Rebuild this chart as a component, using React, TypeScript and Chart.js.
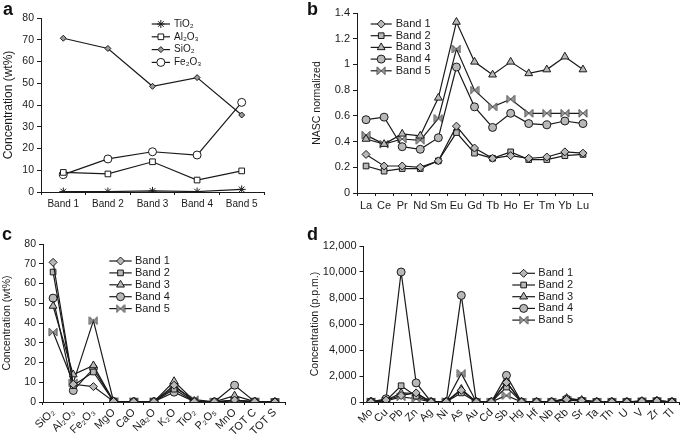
import React, { useEffect, useRef } from 'react';
import { Chart, registerables } from 'chart.js';
import { drawPoint } from 'chart.js/helpers';

Chart.register(...registerables);

const FONT = '"Liberation Sans", Arial, Helvetica, sans-serif';
const INK = '#1a1a1a';
const GREY = '#b8b8b8';

// ---------- Panel a ----------
const bandLabels = ['Band 1', 'Band 2', 'Band 3', 'Band 4', 'Band 5'];
const aTiO2 = [0.2, 0.2, 0.5, 0.2, 1.2];
const aAl2O3 = [9.0, 8.3, 13.9, 5.5, 9.7];
const aSiO2 = [70.7, 66.0, 48.6, 52.6, 35.4];
const aFe2O3 = [8.0, 15.2, 18.5, 17.0, 41.2];

// ---------- Panel b ----------
const reeLabels = ['La', 'Ce', 'Pr', 'Nd', 'Sm', 'Eu', 'Gd', 'Tb', 'Ho', 'Er', 'Tm', 'Yb', 'Lu'];
const bBand1 = [0.30, 0.21, 0.21, 0.20, 0.25, 0.52, 0.35, 0.27, 0.29, 0.27, 0.28, 0.32, 0.31];
const bBand2 = [0.21, 0.17, 0.19, 0.19, 0.25, 0.47, 0.31, 0.27, 0.32, 0.26, 0.26, 0.29, 0.30];
const bBand3 = [0.42, 0.38, 0.46, 0.445, 0.74, 1.33, 1.02, 0.92, 1.02, 0.93, 0.96, 1.06, 0.96];
const bBand4 = [0.57, 0.59, 0.36, 0.34, 0.43, 0.98, 0.67, 0.51, 0.62, 0.54, 0.53, 0.56, 0.54];
const bBand5 = [0.45, 0.38, 0.42, 0.41, 0.58, 1.12, 0.80, 0.67, 0.73, 0.62, 0.62, 0.62, 0.62];

// ---------- Panel c ----------
const oxideLabels = ['SiO₂', 'Al₂O₃', 'Fe₂O₃', 'MgO', 'CaO', 'Na₂O', 'K₂O', 'TiO₂', 'P₂O₅', 'MnO', 'TOT C', 'TOT S'];
const cBand1 = [70.7, 9.0, 7.8, 0.3, 0.2, 0.2, 8.5, 0.2, 0.1, 1.0, 0.2, 0.0];
const cBand2 = [65.8, 8.3, 15.2, 0.3, 0.2, 0.2, 6.5, 0.2, 0.1, 0.8, 0.2, 0.0];
const cBand3 = [48.6, 13.9, 18.5, 0.3, 0.2, 0.2, 10.5, 0.5, 0.1, 3.2, 0.2, 0.0];
const cBand4 = [52.6, 5.8, 17.0, 0.3, 0.2, 0.2, 5.0, 0.2, 0.1, 8.5, 0.2, 0.0];
const cBand5 = [35.4, 9.7, 41.2, 0.3, 0.2, 0.2, 7.5, 1.2, 0.1, 0.5, 0.2, 0.0];

// ---------- Panel d ----------
const traceLabels = ['Mo', 'Cu', 'Pb', 'Zn', 'Ag', 'Ni', 'As', 'Au', 'Cd', 'Sb', 'Hg', 'Hf', 'Nb', 'Rb', 'Sr', 'Ta', 'Th', 'U', 'V', 'Zr', 'Tl'];
const dBand1 = [20, 150, 500, 700, 5, 20, 900, 5, 10, 1500, 5, 5, 10, 200, 100, 5, 10, 5, 60, 80, 5];
const dBand2 = [15, 100, 1250, 450, 5, 20, 700, 5, 10, 1150, 5, 5, 10, 250, 120, 5, 10, 5, 50, 70, 5];
const dBand3 = [20, 120, 700, 650, 5, 20, 1000, 5, 10, 1550, 5, 5, 10, 300, 150, 5, 10, 5, 60, 90, 5];
const dBand4 = [20, 250, 10000, 1470, 5, 20, 8200, 5, 10, 2050, 5, 5, 10, 180, 80, 5, 10, 5, 50, 70, 5];
const dBand5 = [15, 80, 400, 250, 5, 20, 2200, 5, 10, 500, 5, 5, 10, 150, 60, 5, 10, 5, 40, 60, 5];

let bowtieCache: HTMLCanvasElement | null = null;
function bowtie(): HTMLCanvasElement {
  if (bowtieCache) return bowtieCache;
  const c = document.createElement('canvas');
  c.width = 10;
  c.height = 10;
  const g = c.getContext('2d')!;
  g.beginPath();
  g.moveTo(1, 1);
  g.lineTo(9, 9);
  g.lineTo(9, 1);
  g.lineTo(1, 9);
  g.closePath();
  g.fillStyle = '#9a9a9a';
  g.fill();
  g.strokeStyle = '#555';
  g.lineWidth = 1;
  g.stroke();
  bowtieCache = c;
  return c;
}

const lineLegend = {
  id: 'lineLegend',
  afterDatasetsDraw(chart: any, _args: any, opts: any) {
    const ctx = chart.ctx;
    chart.data.datasets.forEach((d: any, i: number) => {
      const cy = opts.y + i * opts.spacing;
      ctx.save();
      ctx.strokeStyle = d.borderColor;
      ctx.lineWidth = d.borderWidth;
      ctx.beginPath();
      ctx.moveTo(opts.x1, cy);
      ctx.lineTo(opts.x2, cy);
      ctx.stroke();
      ctx.fillStyle = d.pointBackgroundColor;
      ctx.strokeStyle = d.pointBorderColor;
      ctx.lineWidth = d.pointBorderWidth;
      drawPoint(ctx, { pointStyle: d.pointStyle, radius: d.pointRadius, borderWidth: d.pointBorderWidth, rotation: 0 } as any, (opts.x1 + opts.x2) / 2, cy);
      ctx.fillStyle = INK;
      ctx.font = `${opts.size}px ${FONT}`;
      ctx.textBaseline = 'middle';
      ctx.textAlign = 'left';
      ctx.fillText(d.label, opts.tx, cy);
      ctx.restore();
    });
  },
};

function ds(label: string, data: number[], pointStyle: any, bg: string, radius = 4, border = INK) {
  return {
    label,
    data,
    borderColor: INK,
    borderWidth: 1.2,
    pointStyle,
    pointRadius: radius,
    pointBackgroundColor: bg,
    pointBorderColor: border,
    pointBorderWidth: 1,
    fill: false,
    tension: 0,
  };
}

function makeConfig(p: any) {
  return {
    type: 'line',
    data: { labels: p.labels, datasets: p.datasets },
    plugins: [lineLegend],
    options: {
      responsive: false,
      animation: false,
      layout: { padding: p.padding },
      plugins: {
        legend: { display: false },
        tooltip: { enabled: false },
        lineLegend: p.legend,
      },
      scales: {
        x: {
          type: 'category',
          offset: true,
          grid: { display: true, drawOnChartArea: false, drawTicks: true, tickLength: 3, color: INK, offset: true },
          border: { display: true, color: INK, width: 1 },
          ticks: {
            color: INK,
            font: { family: FONT, size: p.xFont },
            padding: p.xPad,
            autoSkip: false,
            maxRotation: p.rot,
            minRotation: p.rot,
          },
          afterFit: (s: any) => { s.height = p.xHeight; },
        },
        y: {
          min: p.yMin,
          max: p.yMax,
          grid: { display: true, drawOnChartArea: false, drawTicks: true, tickLength: 4, color: INK },
          border: { display: true, color: INK, width: 1 },
          ticks: {
            stepSize: p.yStep,
            color: INK,
            font: { family: FONT, size: p.yFont },
            padding: 3,
            callback: p.yFmt,
          },
          title: {
            display: true,
            text: p.yTitle,
            color: INK,
            font: { family: FONT, size: p.titleSize },
            padding: { top: p.titlePad, bottom: 0 },
          },
          afterFit: (s: any) => { s.width = p.yWidth; },
        },
      },
    },
  };
}

function Panel({ left, top, width, height, build }: any) {
  const ref = useRef<HTMLCanvasElement>(null);
  useEffect(() => {
    const chart = new Chart(ref.current as HTMLCanvasElement, build() as any);
    return () => chart.destroy();
  }, []);
  return (
    <canvas
      ref={ref}
      width={width}
      height={height}
      style={{ position: 'absolute', left, top, width, height }}
    />
  );
}

const letterStyle = (left: number, top: number): React.CSSProperties => ({
  position: 'absolute',
  left,
  top,
  fontFamily: FONT,
  fontWeight: 'bold',
  fontSize: 18,
  lineHeight: '18px',
  color: '#111',
});

export default function App() {
  const buildA = () =>
    makeConfig({
      labels: bandLabels,
      datasets: [
        ds('TiO₂', aTiO2, 'star', INK, 4),
        ds('Al₂O₃', aAl2O3, 'rect', '#fff', 4),
        ds('SiO₂', aSiO2, 'rectRot', '#999', 3),
        ds('Fe₂O₃', aFe2O3, 'circle', '#fff', 4),
      ],
      padding: { top: 18, right: 41, bottom: 0, left: 0 },
      legend: { x1: 151.7, x2: 170, tx: 174, y: 24, spacing: 12.8, size: 10 },
      yMin: 0, yMax: 80, yStep: 10,
      yFmt: (v: any) => String(v),
      yTitle: 'Concentration (wt%)', titleSize: 12, titlePad: 1,
      yWidth: 41, xHeight: 23, xFont: 10, yFont: 10.5, xPad: 3, rot: 0,
    });

  const bandSets = (b1: number[], b2: number[], b3: number[], b4: number[], b5: number[]) => [
    ds('Band 1', b1, 'rectRot', GREY, 4),
    ds('Band 2', b2, 'rect', GREY, 4),
    ds('Band 3', b3, 'triangle', GREY, 4.5),
    ds('Band 4', b4, 'circle', GREY, 4),
    ds('Band 5', b5, bowtie(), GREY, 4),
  ];

  const buildB = () =>
    makeConfig({
      labels: reeLabels,
      datasets: bandSets(bBand1, bBand2, bBand3, bBand4, bBand5),
      padding: { top: 13, right: 93, bottom: 0, left: 0 },
      legend: { x1: 65.7, x2: 86.7, tx: 90.7, y: 24, spacing: 11.7, size: 11 },
      yMin: 0, yMax: 1.4, yStep: 0.2,
      yFmt: (v: any) => String(Math.round(v * 10) / 10),
      yTitle: 'NASC normalized', titleSize: 10.5, titlePad: 6,
      yWidth: 52, xHeight: 22, xFont: 11, yFont: 11, xPad: 3, rot: 0,
    });

  const buildC = () =>
    makeConfig({
      labels: oxideLabels,
      datasets: bandSets(cBand1, cBand2, cBand3, cBand4, cBand5),
      padding: { top: 29, right: 20, bottom: 0, left: 0 },
      legend: { x1: 109.3, x2: 131.7, tx: 135, y: 46, spacing: 11.9, size: 11 },
      yMin: 0, yMax: 80, yStep: 10,
      yFmt: (v: any) => String(v),
      yTitle: 'Concentration (wt%)', titleSize: 10.5, titlePad: 1,
      yWidth: 43, xHeight: 38, xFont: 11, yFont: 10.5, xPad: 1, rot: 45,
    });

  const buildD = () =>
    makeConfig({
      labels: traceLabels,
      datasets: bandSets(dBand1, dBand2, dBand3, dBand4, dBand5),
      padding: { top: 31, right: 1, bottom: 0, left: 0 },
      legend: { x1: 207.3, x2: 230, tx: 233.3, y: 58.3, spacing: 11.7, size: 11 },
      yMin: 0, yMax: 12000, yStep: 2000,
      yFmt: (v: any) => Number(v).toLocaleString('en-US'),
      yTitle: 'Concentration (p.p.m.)', titleSize: 10.5, titlePad: 4,
      yWidth: 58.5, xHeight: 38, xFont: 11, yFont: 11, xPad: 1, rot: 45,
    });

  return (
    <div style={{ position: 'absolute', left: 0, top: 0, width: 685, height: 440, background: '#fff', overflow: 'hidden' }}>
      <Panel left={0} top={0} width={305} height={215} build={buildA} />
      <Panel left={305} top={0} width={380} height={215} build={buildB} />
      <Panel left={0} top={215} width={305} height={225} build={buildC} />
      <Panel left={305} top={215} width={380} height={225} build={buildD} />
      <div style={letterStyle(3, 0)}>a</div>
      <div style={letterStyle(307, 0)}>b</div>
      <div style={letterStyle(2, 225)}>c</div>
      <div style={letterStyle(307, 225)}>d</div>
    </div>
  );
}
